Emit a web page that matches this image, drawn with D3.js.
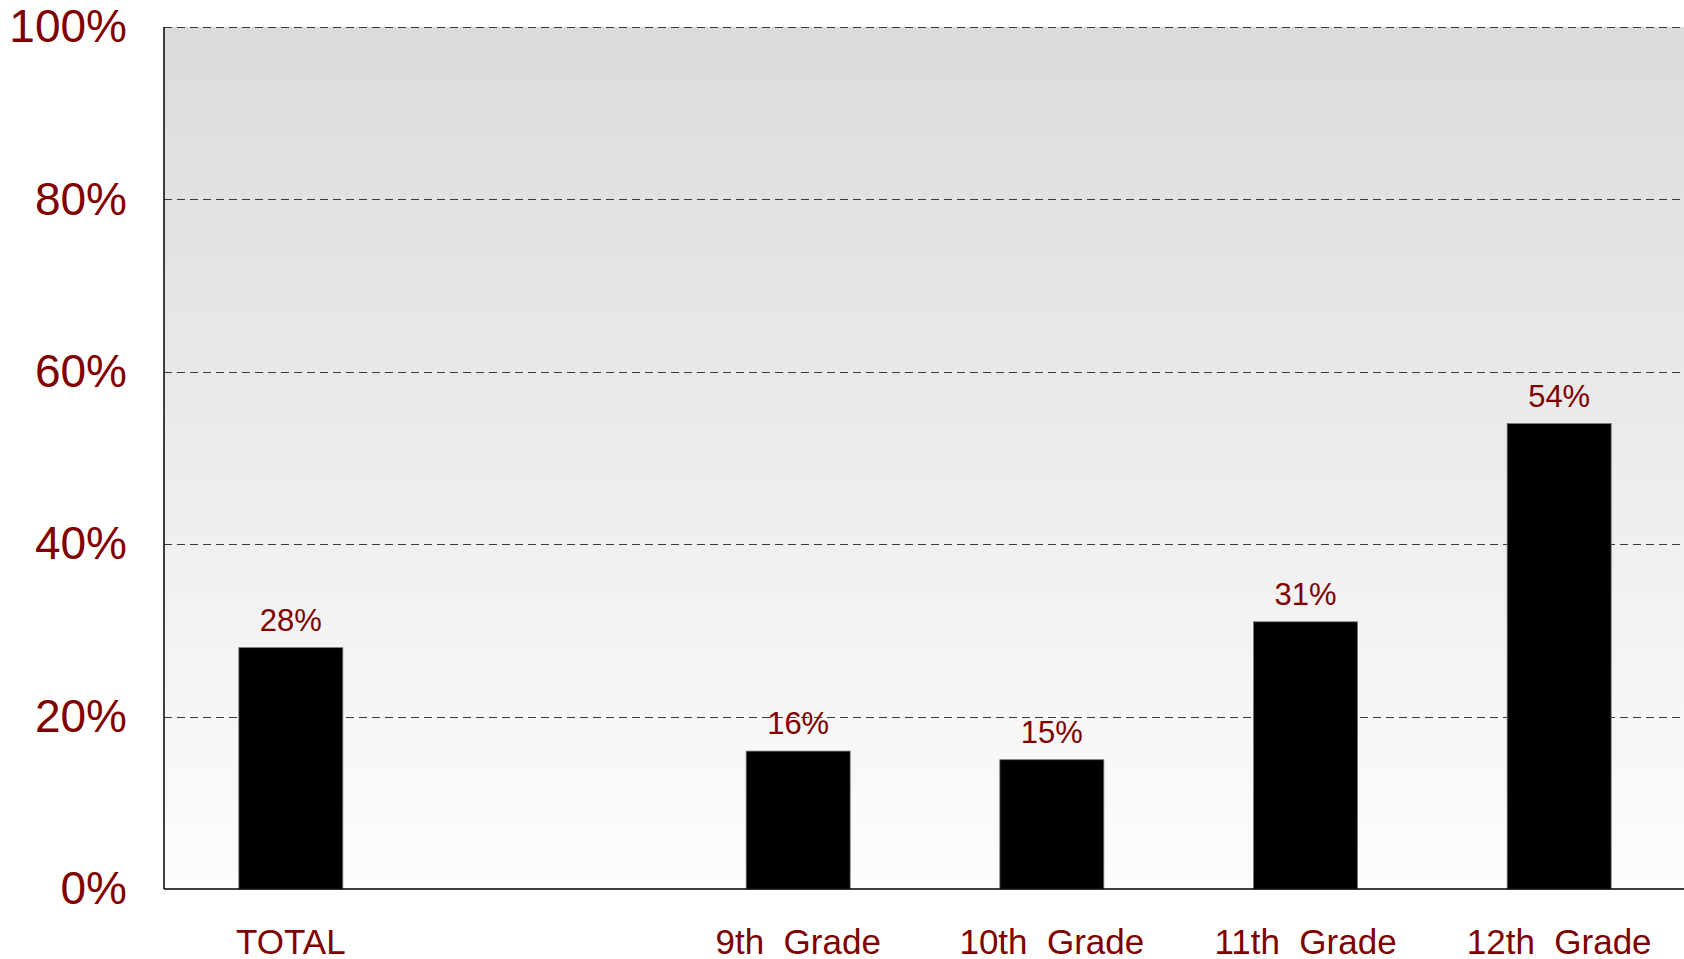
<!DOCTYPE html>
<html>
<head>
<meta charset="utf-8">
<script src="https://cdn.jsdelivr.net/npm/d3@7"></script>
<style>
  body { margin: 0; background: #fff; }
  svg { display: block; font-family: 'Liberation Sans', Arial, sans-serif; }
</style>
</head>
<body>
<div id="chart"></div>
<script>
// categories (a blank slot separates TOTAL from the grades)
const categories = ['TOTAL', '', '9th  Grade', '10th  Grade', '11th  Grade', '12th  Grade'];
const values = [28, null, 16, 15, 31, 54];
const yTicks = [0, 20, 40, 60, 80, 100];

const width = 1684;
const height = 959;
const margin = { top: 27, right: -2, bottom: 70, left: 164 };
const labelColor = '#800000';

const svg = d3.select('#chart')
  .append('svg')
  .attr('width', width)
  .attr('height', height);

const x = d3.scaleBand()
  .domain(categories)
  .range([margin.left, width - margin.right])
  .paddingInner(0.59)
  .paddingOuter(0.295);

const y = d3.scaleLinear()
  .domain([0, 100])
  .range([height - margin.bottom, margin.top]);

// plot background gradient
const grad = svg.append('defs')
  .append('linearGradient')
  .attr('id', 'bg')
  .attr('x1', 0).attr('y1', 0)
  .attr('x2', 0).attr('y2', 1);
grad.append('stop').attr('offset', '0%').attr('stop-color', '#dbdbdb');
grad.append('stop').attr('offset', '100%').attr('stop-color', '#fdfdfd');

svg.append('rect')
  .attr('x', margin.left)
  .attr('y', y(100))
  .attr('width', width - margin.left)
  .attr('height', y(0) - y(100))
  .attr('fill', 'url(#bg)');

// dashed gridlines
svg.append('g')
  .selectAll('line')
  .data(yTicks.filter(d => d > 0))
  .enter()
  .append('line')
  .attr('x1', margin.left)
  .attr('x2', width)
  .attr('y1', d => Math.round(y(d)) + 0.5)
  .attr('y2', d => Math.round(y(d)) + 0.5)
  .attr('stroke', '#3a3a3a')
  .attr('stroke-width', 1)
  .attr('stroke-dasharray', '8,5');

// y axis labels
const yAxis = svg.append('g')
  .attr('transform', `translate(${margin.left},0)`)
  .call(d3.axisLeft(y).tickValues(yTicks).tickSize(0).tickPadding(37).tickFormat(d => d + '%'));
yAxis.select('.domain').remove();
yAxis.selectAll('text')
  .attr('fill', labelColor)
  .style('font-size', '46px')
  .style('font-family', "'Liberation Sans', Arial, sans-serif");

// bars
svg.append('g')
  .selectAll('rect')
  .data(categories.map((c, i) => ({ c, v: values[i] })).filter(d => d.v !== null))
  .enter()
  .append('rect')
  .attr('x', d => x(d.c))
  .attr('y', d => y(d.v))
  .attr('width', x.bandwidth())
  .attr('height', d => y(0) - y(d.v))
  .attr('fill', '#000')
  .attr('stroke', '#777')
  .attr('stroke-width', 0.8);

// value labels
svg.append('g')
  .selectAll('text')
  .data(categories.map((c, i) => ({ c, v: values[i] })).filter(d => d.v !== null))
  .enter()
  .append('text')
  .attr('x', d => x(d.c) + x.bandwidth() / 2)
  .attr('y', d => y(d.v) - 17)
  .attr('text-anchor', 'middle')
  .attr('fill', labelColor)
  .style('font-size', '31px')
  .text(d => d.v + '%');

// axis lines
svg.append('line')
  .attr('x1', margin.left).attr('x2', margin.left)
  .attr('y1', y(100)).attr('y2', y(0))
  .attr('stroke', '#000').attr('stroke-width', 1.5);
svg.append('line')
  .attr('x1', margin.left).attr('x2', width)
  .attr('y1', y(0)).attr('y2', y(0))
  .attr('stroke', '#000').attr('stroke-width', 1.5);

// x axis labels
const xAxis = svg.append('g')
  .attr('transform', `translate(0,${y(0)})`)
  .call(d3.axisBottom(x).tickSize(0).tickPadding(40));
xAxis.select('.domain').remove();
xAxis.selectAll('text')
  .attr('fill', labelColor)
  .style('font-size', '35px')
  .style('white-space', 'pre')
  .style('font-family', "'Liberation Sans', Arial, sans-serif");
</script>
</body>
</html>
